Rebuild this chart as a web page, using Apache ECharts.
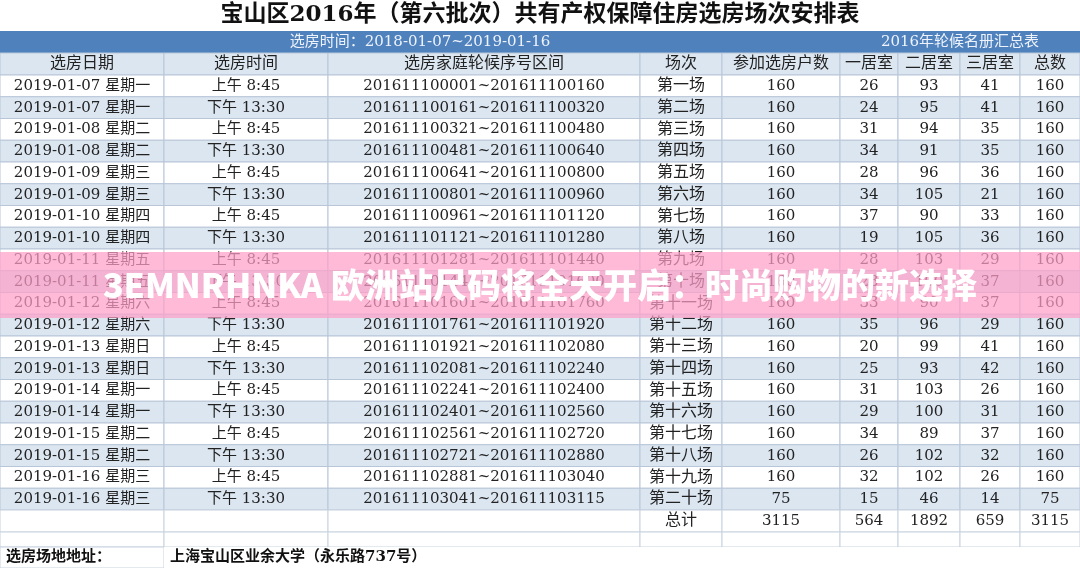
<!DOCTYPE html>
<html><head><meta charset="utf-8">
<script src="https://cdn.jsdelivr.net/npm/echarts@6/dist/echarts.min.js"></script>
<style>html,body{margin:0;padding:0;background:#fff}#c{width:1080px;height:568px}</style>
</head><body><div id="c"></div>
<script>
const title = '宝山区2016年（第六批次）共有产权保障住房选房场次安排表';
const bandLeft = '选房时间：2018-01-07~2019-01-16';
const bandRight = '2016年轮候名册汇总表';
const headers = ['选房日期','选房时间','选房家庭轮候序号区间','场次','参加选房户数','一居室','二居室','三居室','总数'];
const dates = ['2019-01-07 星期一','2019-01-07 星期一','2019-01-08 星期二','2019-01-08 星期二','2019-01-09 星期三','2019-01-09 星期三','2019-01-10 星期四','2019-01-10 星期四','2019-01-11 星期五','2019-01-11 星期五','2019-01-12 星期六','2019-01-12 星期六','2019-01-13 星期日','2019-01-13 星期日','2019-01-14 星期一','2019-01-14 星期一','2019-01-15 星期二','2019-01-15 星期二','2019-01-16 星期三','2019-01-16 星期三'];
const times = ['上午 8:45','下午 13:30','上午 8:45','下午 13:30','上午 8:45','下午 13:30','上午 8:45','下午 13:30','上午 8:45','下午 13:30','上午 8:45','下午 13:30','上午 8:45','下午 13:30','上午 8:45','下午 13:30','上午 8:45','下午 13:30','上午 8:45','下午 13:30'];
const ranges = ['201611100001~201611100160','201611100161~201611100320','201611100321~201611100480','201611100481~201611100640','201611100641~201611100800','201611100801~201611100960','201611100961~201611101120','201611101121~201611101280','201611101281~201611101440','201611101441~201611101600','201611101601~201611101760','201611101761~201611101920','201611101921~201611102080','201611102081~201611102240','201611102241~201611102400','201611102401~201611102560','201611102561~201611102720','201611102721~201611102880','201611102881~201611103040','201611103041~201611103115'];
const sessions = ['第一场','第二场','第三场','第四场','第五场','第六场','第七场','第八场','第九场','第十场','第十一场','第十二场','第十三场','第十四场','第十五场','第十六场','第十七场','第十八场','第十九场','第二十场'];
const households = [160,160,160,160,160,160,160,160,160,160,160,160,160,160,160,160,160,160,160,75];
const room1 = [26,24,31,34,28,34,37,19,28,23,33,35,20,25,31,29,34,26,32,15];
const room2 = [93,95,94,91,96,105,90,105,103,100,90,96,99,93,103,100,89,102,102,46];
const room3 = [41,41,35,35,36,21,33,36,29,37,37,29,41,42,26,31,37,32,26,14];
const totals = [160,160,160,160,160,160,160,160,160,160,160,160,160,160,160,160,160,160,160,75];
const totalRow = ['','','','总计','3115','564','1892','659','3115'];
const footerLabel = '选房场地地址：';
const footerValue = '上海宝山区业余大学（永乐路737号）';
const overlayText = '3EMNRHNKA 欧洲站尺码将全天开启：时尚购物的新选择';

const colX = [0,164,328,640,722,840,898,960,1020,1080];
const FONT = '"DejaVu Serif","Noto Sans CJK SC",serif';
const cells = [];
cells.push([0,1080,0,31,title,'#ffffff','#111',23,'bold','center',null]);
cells.push([0,1080,31,53,'','#4f81bd','#fff',15,'normal','center',null]);
cells.push([0,840,31,53,bandLeft,null,'#eef3fb',15,'normal','center',null]);
cells.push([840,1080,31,53,bandRight,null,'#eef3fb',15,'normal','center',null]);
headers.forEach((h,j)=>cells.push([colX[j],colX[j+1],53,75,h,'#dce6f1','#222',16,'normal','center','#b8c6d8']));
const rowH = 21.75;
for (let i=0;i<20;i++){
  const y0 = 75+rowH*i, y1 = y0+rowH;
  const fill = i%2===0 ? '#ffffff' : '#dce6f1';
  const row = [dates[i],times[i],ranges[i],sessions[i],households[i],room1[i],room2[i],room3[i],totals[i]];
  row.forEach((v,j)=>cells.push([colX[j],colX[j+1],y0,y1,String(v),fill,'#222',j===3?16:15,'normal','center','#b8c6d8']));
}
totalRow.forEach((v,j)=>cells.push([colX[j],colX[j+1],510,532,v,'#ffffff','#222',j===3?16:15,'normal','center','#c8d2de']));
for (let j=0;j<9;j++) cells.push([colX[j],colX[j+1],532,547,'','#ffffff','#222',16,'normal','center','#c8d2de']);
cells.push([0,164,547,568,footerLabel,'#ffffff','#111',15,'bold','left','#c8d2de']);
cells.push([164,1080,547,568,footerValue,'#ffffff','#111',15,'bold','left',null]);
cells.push([0,1080,252,318,'','rgba(255,160,200,0.72)','#fff',16,'normal','center',null]);
cells.push([0,1080,252,318,overlayText,null,'#ffffff',34,'900','center',null,'"Noto Sans CJK SC",sans-serif']);

const chart = echarts.init(document.getElementById('c'));
chart.setOption({
  animation:false,
  grid:{left:0,right:0,top:0,bottom:0},
  xAxis:{type:'value',min:0,max:1080,show:false},
  yAxis:{type:'value',min:0,max:568,inverse:true,show:false},
  series:[{
    type:'custom',
    coordinateSystem:'cartesian2d',
    data:cells.map((c,i)=>[c[0],c[1],c[2],c[3],i]),
    renderItem:function(params,api){
      const c = cells[api.value(4)];
      const p0 = api.coord([c[0],c[2]]), p1 = api.coord([c[1],c[3]]);
      const w = p1[0]-p0[0], h = p1[1]-p0[1];
      const children = [];
      children.push({type:'rect',shape:{x:p0[0],y:p0[1],width:w,height:h},
        style:{fill:c[5]||'none',stroke:c[10]||'none',lineWidth:1}});
      if (c[4]) children.push({type:'text',style:{
        text:c[4],x:c[9]==='left'?p0[0]+6:p0[0]+w/2,y:p0[1]+h/2,
        align:c[9],verticalAlign:'middle',fill:c[6],
        font:c[8]+' '+c[7]+'px '+(c[11]||FONT)}});
      return {type:'group',children:children};
    }
  }]
});
</script></body></html>
